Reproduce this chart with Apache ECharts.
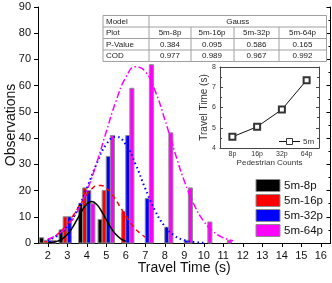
<!DOCTYPE html>
<html>
<head>
<meta charset="utf-8">
<script src="https://cdn.jsdelivr.net/npm/echarts@6/dist/echarts.min.js"></script>
<style>html,body{margin:0;padding:0;background:#fff;}#c{width:332px;height:283px;}</style>
</head>
<body>
<div id="c"></div>
<script>
// ---- data ----
const xTicks = [2,3,4,5,6,7,8,9,10,11,12,13,14,15,16];
const binCenters = [2,3,4,5,6,7,8,9,10,11];
const seriesNames = ['5m-8p','5m-16p','5m-32p','5m-64p'];
const obs8p  = [2,5,15,9,0,0,0,0,0,0];
const obs16p = [1,10,21,20,12,0,0,0,0,0];
const obs32p = [1,10,20,33,41,17,6,1,0,0];
const obs64p = [1,0,15,41,59,68,42,21,8,1];

const fitX8p = [2,2.25,2.5,2.75,3,3.25,3.5,3.75,4,4.25,4.5,4.75,5,5.25,5.5,5.75,6];
const fitY8p = [0.1,0.3,0.7,1.6,3.2,5.7,8.9,12.2,14.8,15.8,14.8,12.2,8.9,5.7,3.2,1.6,0.7];
const fitX16p = [2,2.25,2.5,2.75,3,3.25,3.5,3.75,4,4.25,4.5,4.75,5,5.25,5.5,5.75,6,6.25,6.5,6.75,7];
const fitY16p = [1.2,2.0,3.3,5.0,7.1,9.8,12.7,15.7,18.5,20.6,21.8,21.9,20.9,19.0,16.3,13.3,10.4,7.6,5.3,3.6,2.2];
const fitX32p = [2,2.5,3,3.5,4,4.5,5,5.5,6,6.5,7,7.5,8,8.5,9,9.5,10];
const fitY32p = [1.1,2.8,6.4,12.4,20.8,30.1,37.6,40.5,37.6,30.1,20.8,12.4,6.4,2.8,1.1,0.4,0.1];
const fitX64p = [2,2.5,3,3.5,4,4.5,5,5.5,6,6.5,7,7.5,8,8.5,9,9.5,10,10.5,11,11.5];
const fitY64p = [1.5,3.2,6.5,11.8,19.8,30.3,42.4,54.1,63.1,67.2,65.4,58.1,47.2,35.0,23.7,14.7,8.3,4.3,2.0,0.9];

const tableHeader = ['Model','Gauss'];
const tableRowNames = ['Plot','P-Value','COD'];
const tablePlots = ['5m-8p','5m-16p','5m-32p','5m-64p'];
const tablePValues = ['0.384','0.095','0.586','0.165'];
const tableCOD = ['0.977','0.989','0.967','0.992'];

const pedCounts = ['8p','16p','32p','64p'];
const insetTravel = [4.55,5.05,5.9,7.35];
const insetName = '5m';

// ---- drawing ----
const FONT = '"Liberation Sans", Arial, sans-serif';
const colors = ['#000000','#ff0000','#0000ff','#ff00ff'];
const barOffsets = [-0.315,-0.105,0.105,0.315];
const BW = 0.21;
const obsAll = [obs8p, obs16p, obs32p, obs64p];

function barRender(k) {
  return function (params, api) {
    const x = api.value(0), y = api.value(1);
    if (!y) return null;
    const p0 = api.coord([x + barOffsets[k] - BW/2, y]);
    const p1 = api.coord([x + barOffsets[k] + BW/2, 0]);
    return {
      type: 'rect',
      shape: {x: p0[0], y: p0[1], width: p1[0]-p0[0], height: p1[1]-p0[1]},
      style: {fill: colors[k], stroke: '#8c8c8c', lineWidth: 1}
    };
  };
}

const barSeries = seriesNames.map((n, k) => ({
  name: n, type: 'custom', xAxisIndex: 0, yAxisIndex: 0,
  renderItem: barRender(k),
  itemStyle: {color: colors[k], borderColor: '#8c8c8c', borderWidth: 1},
  encode: {x: 0, y: 1},
  data: binCenters.map((c, i) => [c, obsAll[k][i]]),
  z: 2
}));

const fits = [[fitX8p,fitY8p],[fitX16p,fitY16p],[fitX32p,fitY32p],[fitX64p,fitY64p]];
const lineTypes = ['solid',[5,3.5],[1.5,3],[7,2.5,1.5,2.5]];
const lineWidths = [1.5,1.5,2,1.5];
const fitSeries = fits.map((f, k) => ({
  name: 'fit' + k, type: 'line', xAxisIndex: 0, yAxisIndex: 0,
  smooth: true, symbol: 'none', silent: true,
  lineStyle: {color: colors[k], width: lineWidths[k], type: lineTypes[k]},
  data: f[0].map((x, i) => [x, f[1][i]]),
  z: 4
}));

// table graphics
const tL = 103, tR = 326.5, tC1 = 149;
const colSep = [149, 191, 234, 279, 326.5];
const colCenters = [170, 212, 256.5, 302.5];
const rowY = [15.5, 27, 38.5, 50, 61.5];
const tStroke = '#a0a0a0';
const tFont = 8;
const g = [];
g.push({type:'rect', shape:{x:tL, y:rowY[0], width:tR-tL, height:rowY[4]-rowY[0]}, style:{fill:'#fff', stroke:tStroke, lineWidth:1}, z:100});
for (let r = 1; r < 4; r++) g.push({type:'line', shape:{x1:tL,y1:rowY[r],x2:tR,y2:rowY[r]}, style:{stroke:tStroke,lineWidth:1}, z:101});
g.push({type:'line', shape:{x1:tC1,y1:rowY[0],x2:tC1,y2:rowY[4]}, style:{stroke:tStroke,lineWidth:1}, z:101});
for (let c = 1; c < 4; c++) g.push({type:'line', shape:{x1:colSep[c],y1:rowY[1],x2:colSep[c],y2:rowY[4]}, style:{stroke:tStroke,lineWidth:1}, z:101});
function tText(txt, x, y, align, size, fill) {
  g.push({type:'text', z:102, style:{text:txt, x:x, y:y, align:align, verticalAlign:'middle', fontSize:size || tFont, fontFamily:FONT, fill:fill || '#222'}});
}
const midRow = r => (rowY[r] + rowY[r+1]) / 2 + 0.5;
tText(tableHeader[0], tL + 3, midRow(0), 'left');
tText(tableHeader[1], (tC1 + tR) / 2, midRow(0), 'center');
tableRowNames.forEach((n, i) => tText(n, tL + 3, midRow(i+1), 'left'));
const tableRows = [tablePlots, tablePValues, tableCOD];
tableRows.forEach((row, r) => row.forEach((v, c) => tText(v, colCenters[c], midRow(r+1), 'center')));

// inset legend key (line + open square + name)
const lgY = 141.5;
g.push({type:'line', z:102, shape:{x1:279, y1:lgY, x2:300, y2:lgY}, style:{stroke:'#111', lineWidth:1}});
g.push({type:'rect', z:103, shape:{x:286.5, y:lgY-3, width:6, height:6}, style:{fill:'#fff', stroke:'#333', lineWidth:1}});
tText(insetName, 303, lgY + 0.5, 'left', 8, '#333');

const option = {
  animation: false,
  backgroundColor: '#fff',
  textStyle: {fontFamily: FONT},
  grid: [
    {left: 38, right: 1.5, top: 7, bottom: 40, outerBoundsMode: 'none', containLabel: false},
    {left: 220, top: 67, width: 99, height: 81, outerBoundsMode: 'none', containLabel: false}
  ],
  xAxis: [
    {type: 'value', gridIndex: 0, min: 1.5, max: 16.5,
     axisLine: {lineStyle: {color: '#000', width: 1}},
     axisTick: {customValues: xTicks, length: 4, lineStyle: {color: '#000'}},
     axisLabel: {customValues: xTicks, fontSize: 11, color: '#111', margin: 7, fontFamily: FONT},
     splitLine: {show: false},
     name: 'Travel Time (s)', nameLocation: 'middle', nameGap: 18, nameMoveOverlap: false,
     nameTextStyle: {fontSize: 14, color: '#111', fontFamily: FONT}},
    {type: 'value', gridIndex: 0, position: 'top', min: 1.5, max: 16.5,
     axisLine: {lineStyle: {color: '#000', width: 1}},
     axisTick: {customValues: xTicks, inside: true, length: 4, lineStyle: {color: '#000'}},
     axisLabel: {show: false}, splitLine: {show: false}},
    {type: 'category', gridIndex: 1, data: pedCounts, boundaryGap: true,
     axisLine: {lineStyle: {color: '#444', width: 1}},
     axisTick: {alignWithLabel: true, inside: true, length: 3, lineStyle: {color: '#444'}},
     axisLabel: {fontSize: 7, color: '#333', margin: 3, fontFamily: FONT},
     splitLine: {show: false},
     name: 'Pedestrian Counts', nameLocation: 'middle', nameGap: 11, nameMoveOverlap: false,
     nameTextStyle: {fontSize: 8, color: '#333', fontFamily: FONT}},
    {type: 'category', gridIndex: 1, position: 'top', data: pedCounts, boundaryGap: true,
     axisLine: {lineStyle: {color: '#444', width: 1}},
     axisTick: {alignWithLabel: true, inside: true, length: 3, lineStyle: {color: '#444'}},
     axisLabel: {show: false}, splitLine: {show: false}}
  ],
  yAxis: [
    {type: 'value', gridIndex: 0, min: 0, max: 90, interval: 10,
     axisLine: {show: true, lineStyle: {color: '#000', width: 1}},
     axisTick: {show: true, length: 4, lineStyle: {color: '#000'}},
     axisLabel: {fontSize: 11, color: '#111', margin: 7, fontFamily: FONT},
     splitLine: {show: false},
     name: 'Observations', nameLocation: 'middle', nameGap: 20, nameMoveOverlap: false,
     nameTextStyle: {fontSize: 14, color: '#111', fontFamily: FONT}},
    {type: 'value', gridIndex: 0, position: 'right', min: 0, max: 90, interval: 10,
     axisLine: {show: true, lineStyle: {color: '#000', width: 1}},
     axisTick: {show: true, inside: true, length: 4, lineStyle: {color: '#000'}},
     minorTick: {show: true, splitNumber: 2, length: 2, lineStyle: {color: '#000'}},
     axisLabel: {show: false}, splitLine: {show: false}},
    {type: 'value', gridIndex: 1, min: 4, max: 8, interval: 1,
     axisLine: {show: true, lineStyle: {color: '#444', width: 1}},
     axisTick: {show: true, inside: true, length: 3, lineStyle: {color: '#444'}},
     minorTick: {show: true, splitNumber: 2, length: 2, lineStyle: {color: '#444'}},
     axisLabel: {fontSize: 7, color: '#333', margin: 4, fontFamily: FONT},
     splitLine: {show: false},
     name: 'Travel Time (s)', nameLocation: 'middle', nameGap: 11, nameMoveOverlap: false,
     nameTextStyle: {fontSize: 10, color: '#333', fontFamily: FONT}},
    {type: 'value', gridIndex: 1, position: 'right', min: 4, max: 8, interval: 1,
     axisLine: {show: true, lineStyle: {color: '#444', width: 1}},
     axisTick: {show: true, inside: true, length: 3, lineStyle: {color: '#444'}},
     minorTick: {show: true, splitNumber: 2, length: 2, lineStyle: {color: '#444'}},
     axisLabel: {show: false}, splitLine: {show: false}}
  ],
  legend: [
    {data: seriesNames, orient: 'vertical', left: 255.5, top: 179,
     itemWidth: 24, itemHeight: 12, itemGap: 2, icon: 'rect',
     itemStyle: {borderColor: '#8c8c8c', borderWidth: 1},
     textStyle: {fontSize: 11.5, color: '#111', fontFamily: FONT, padding: [0,0,0,-1]},
     selectedMode: false, padding: 0}
  ],
  graphic: g,
  series: barSeries.concat(fitSeries).concat([
    {name: insetName, type: 'line', xAxisIndex: 2, yAxisIndex: 2,
     data: insetTravel, symbol: 'emptyRect', symbolSize: 6,
     lineStyle: {color: '#111', width: 1},
     itemStyle: {color: '#333', borderColor: '#333', borderWidth: 1}, z: 5}
  ])
};

const chart = echarts.init(document.getElementById('c'), null, {renderer: 'canvas'});
chart.setOption(option);
</script>
</body>
</html>
